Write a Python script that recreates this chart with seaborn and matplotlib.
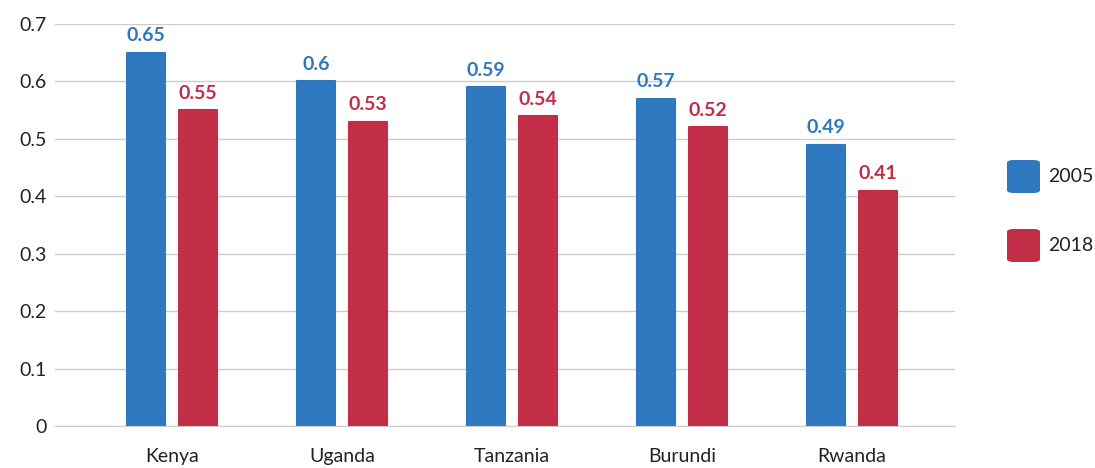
import pandas as pd
import matplotlib.pyplot as plt
import seaborn as sns
from matplotlib.patches import FancyBboxPatch

countries = ['Kenya', 'Uganda', 'Tanzania', 'Burundi', 'Rwanda']
years = ['2005', '2018']
values_2005 = [0.65, 0.6, 0.59, 0.57, 0.49]
values_2018 = [0.55, 0.53, 0.54, 0.52, 0.41]
label_2005 = ['0.65', '0.6', '0.59', '0.57', '0.49']
label_2018 = ['0.55', '0.53', '0.54', '0.52', '0.41']
ytick_labels = ['0', '0.1', '0.2', '0.3', '0.4', '0.5', '0.6', '0.7']

blue = '#2E78BF'
red = '#C22E48'

df = pd.DataFrame({
    'Country': countries * 2,
    'Year': ['2005'] * 5 + ['2018'] * 5,
    'Value': values_2005 + values_2018,
})

sns.set_style('white')
plt.rcParams['font.family'] = ['Lato', 'DejaVu Sans']

fig = plt.figure(figsize=(10.95, 4.68), dpi=100)
ax = fig.add_axes([0.0502, 0.0897, 0.8219, 0.859])

sns.barplot(data=df, x='Country', y='Value', hue='Year', order=countries,
            hue_order=years, palette=[blue, red], saturation=1,
            width=0.612, gap=0.26, ax=ax, legend=False)

# slightly rounded corners
for patch in ax.patches:
    patch.set_edgecolor(patch.get_facecolor())
    patch.set_linewidth(1.5)
    patch.set_joinstyle('round')

for container, labels, col in zip(ax.containers, [label_2005, label_2018], [blue, red]):
    ax.bar_label(container, labels=labels, padding=6, color=col,
                 fontsize=14, fontweight='bold')

ax.set_ylim(0, 0.7)
ax.set_xlim(-0.688, 4.606)
ax.set_yticks([i / 10 for i in range(8)])
ax.set_yticklabels(ytick_labels)
ax.yaxis.grid(True, color='#cccccc', linewidth=1)
ax.set_axisbelow(True)
for s in ['top', 'right', 'left']:
    ax.spines[s].set_visible(False)
ax.spines['bottom'].set_color('#cccccc')
ax.tick_params(axis='y', length=0, labelsize=14, pad=6, labelcolor='#222222')
ax.tick_params(axis='x', length=0, labelsize=14, pad=16, labelcolor='#222222')
ax.set_xlabel('')
ax.set_ylabel('')

# legend on the right
for i, (yr, col) in enumerate(zip(years, [blue, red])):
    y0 = 1 - (193 + i * 69) / 468
    box = FancyBboxPatch((1007 / 1095, y0), 33 / 1095, 33 / 468,
                         boxstyle='round,pad=0,rounding_size=0.006',
                         transform=fig.transFigure, facecolor=col,
                         edgecolor='none')
    fig.add_artist(box)
    fig.text(1048 / 1095, y0 + 16.5 / 468, yr, fontsize=14, va='center',
             color='#222222')

fig.savefig('out.png', dpi=100)
